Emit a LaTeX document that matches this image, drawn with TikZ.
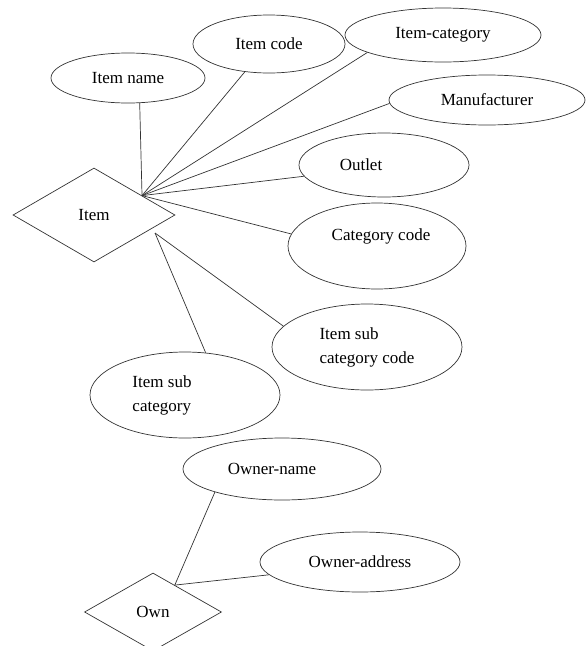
\documentclass[tikz,border=0pt]{standalone}
\usepackage{fontspec}
\setmainfont{Liberation Serif}
\usetikzlibrary{shapes.geometric}

\tikzset{
	attr/.style={draw=black!80, ellipse, line width=0.7pt, inner sep=0pt},
	rel/.style={draw=black!80, diamond, line width=0.7pt, inner sep=0pt},
	link/.style={draw=black!80, line width=0.7pt}
}

\begin{document}
\begin{tikzpicture}[x=1pt,y=-1pt,font=\fontsize{17}{24}\selectfont]

	\useasboundingbox (0,0) rectangle (587,646);

	% relationships
	\node[rel, minimum width=162, minimum height=94] (item) at (94,215) {Item};
	\node[rel, minimum width=137, minimum height=78] (own) at (153,612) {Own};

	% attributes of item
	\node[attr, minimum width=154, minimum height=50] (itemname) at (128,78) {Item name};
	\node[attr, minimum width=152, minimum height=58] (itemcode) at (269,44) {Item code};
	\node[attr, minimum width=196, minimum height=54] (itemcat) at (443,35) {Item-category};
	\node[attr, minimum width=196, minimum height=50] (manuf) at (487,100) {Manufacturer};
	\node[attr, minimum width=170, minimum height=64,
		label={[xshift=-23]center:Outlet}] (outlet) at (384,165) {};
	\node[attr, minimum width=178, minimum height=86,
		label={[xshift=4,yshift=10]center:Category code}] (catcode) at (377,246) {};
	\node[attr, minimum width=190, minimum height=86, align=left] (subcode) at (367,347) {Item sub\\category code};
	\node[attr, minimum width=190, minimum height=86,
		label={[xshift=-23,align=left]center:Item sub\\category}] (subcat) at (185,395) {};

	% attributes of own
	\node[attr, minimum width=198, minimum height=62,
		label={[xshift=-10]center:Owner-name}] (ownname) at (282,469) {};
	\node[attr, minimum width=200, minimum height=60] (ownaddr) at (360,562) {Owner-address};

	% meeting points
	\coordinate (hub) at (item.22);
	\coordinate (item-se) at (155,233);
	\coordinate (ownhub) at (own.51);

	% links
	\draw[link] (hub) -- (itemname.-65);
	\draw[link] (hub) -- (itemcode.-131);
	\draw[link] (hub) -- (itemcat.193);
	\draw[link] (hub) -- (manuf.182);
	\draw[link] (hub) -- (outlet.188);
	\draw[link] (hub) -- (catcode.172);
	\draw[link] (item-se) -- (subcode.166);
	\draw[link] (item-se) -- (subcat.64);

	\draw[link] (ownhub) -- (ownname.199);
	\draw[link] (ownhub) -- (ownaddr.188);
\end{tikzpicture}
\end{document}
